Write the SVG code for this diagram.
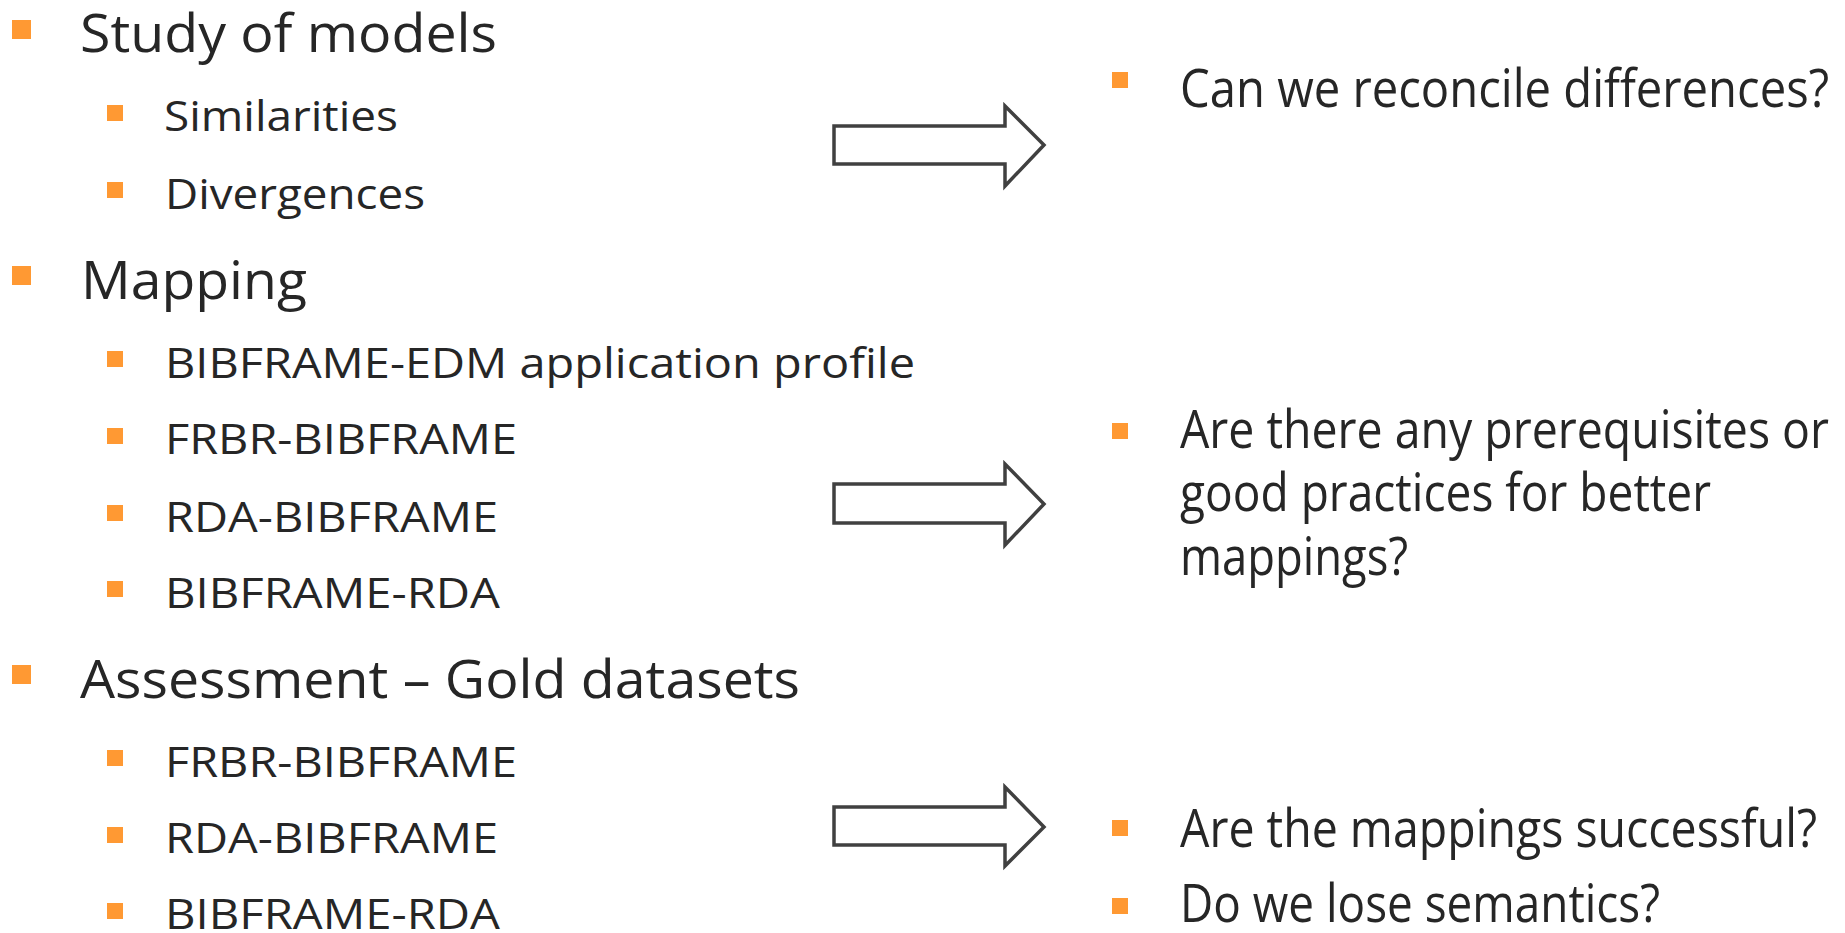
<svg xmlns="http://www.w3.org/2000/svg" width="1845" height="933" viewBox="0 0 1845 933">
<style>
.t{font-family:"Open Sans","Noto Sans","Liberation Sans",sans-serif;fill:#262626;font-variant-ligatures:none}
.m{font-size:53px}
.s{font-size:42px}
.b{fill:#FF9933}
.a{fill:#ffffff;stroke:#404040;stroke-width:3.5;stroke-linejoin:miter}
</style>
<rect width="1845" height="933" fill="#ffffff"/>
<g id="study">
<rect class="b" x="12" y="20" width="19" height="19"/>
<text class="t m" x="80" y="52" textLength="417" lengthAdjust="spacingAndGlyphs">Study of models</text>
</g>
<g id="similarities">
<rect class="b" x="107" y="105" width="16" height="16"/>
<text class="t s" x="164" y="131" textLength="234" lengthAdjust="spacingAndGlyphs">Similarities</text>
</g>
<g id="divergences">
<rect class="b" x="107" y="182" width="16" height="16"/>
<text class="t s" x="165" y="209" textLength="260" lengthAdjust="spacingAndGlyphs">Divergences</text>
</g>
<g id="mapping">
<rect class="b" x="12" y="266" width="19" height="19"/>
<text class="t m" x="81" y="299" textLength="226" lengthAdjust="spacingAndGlyphs">Mapping</text>
</g>
<g id="map-edm">
<rect class="b" x="107" y="351" width="16" height="16"/>
<text class="t s" x="165" y="378" textLength="750" lengthAdjust="spacingAndGlyphs">BIBFRAME-EDM application profile</text>
</g>
<g id="map-frbr">
<rect class="b" x="107" y="428" width="16" height="16"/>
<text class="t s" x="165" y="454" textLength="352" lengthAdjust="spacingAndGlyphs">FRBR-BIBFRAME</text>
</g>
<g id="map-rda">
<rect class="b" x="107" y="505" width="16" height="16"/>
<text class="t s" x="165" y="532" textLength="333" lengthAdjust="spacingAndGlyphs">RDA-BIBFRAME</text>
</g>
<g id="map-bibrda">
<rect class="b" x="107" y="581" width="16" height="16"/>
<text class="t s" x="165" y="608" textLength="335" lengthAdjust="spacingAndGlyphs">BIBFRAME-RDA</text>
</g>
<g id="assessment">
<rect class="b" x="12" y="665" width="19" height="19"/>
<text class="t m" x="80" y="698" textLength="720" lengthAdjust="spacingAndGlyphs">Assessment – Gold datasets</text>
</g>
<g id="as-frbr">
<rect class="b" x="107" y="750" width="16" height="16"/>
<text class="t s" x="165" y="777" textLength="352" lengthAdjust="spacingAndGlyphs">FRBR-BIBFRAME</text>
</g>
<g id="as-rda">
<rect class="b" x="107" y="827" width="16" height="16"/>
<text class="t s" x="165" y="853" textLength="333" lengthAdjust="spacingAndGlyphs">RDA-BIBFRAME</text>
</g>
<g id="as-bibrda">
<rect class="b" x="107" y="903" width="16" height="16"/>
<text class="t s" x="165" y="929" textLength="335" lengthAdjust="spacingAndGlyphs">BIBFRAME-RDA</text>
</g>
<g id="q-reconcile">
<rect class="b" x="1112" y="72" width="16" height="16"/>
<text class="t m" x="1180" y="107" textLength="649" lengthAdjust="spacingAndGlyphs">Can we reconcile differences?</text>
</g>
<g id="q-prereq">
<rect class="b" x="1112" y="423" width="16" height="16"/>
<text class="t m" x="1180" y="448" textLength="649" lengthAdjust="spacingAndGlyphs">Are there any prerequisites or</text>
<text class="t m" x="1180" y="511" textLength="531" lengthAdjust="spacingAndGlyphs">good practices for better</text>
<text class="t m" x="1180" y="575" textLength="228" lengthAdjust="spacingAndGlyphs">mappings?</text>
</g>
<g id="q-success">
<rect class="b" x="1112" y="820" width="16" height="16"/>
<text class="t m" x="1180" y="847" textLength="637" lengthAdjust="spacingAndGlyphs">Are the mappings successful?</text>
</g>
<g id="q-semantics">
<rect class="b" x="1112" y="898" width="16" height="16"/>
<text class="t m" x="1180" y="922" textLength="480" lengthAdjust="spacingAndGlyphs">Do we lose semantics?</text>
</g>
<g id="connectors">
<path class="a" d="M834,126 H1005 V106 L1044,145 L1005,186 V164 H834 Z"/>
<path class="a" d="M834,484 H1005 V464 L1044,504 L1005,545 V523 H834 Z"/>
<path class="a" d="M834,807 H1005 V787 L1044,827 L1005,866 V845 H834 Z"/>
</g>
</svg>
